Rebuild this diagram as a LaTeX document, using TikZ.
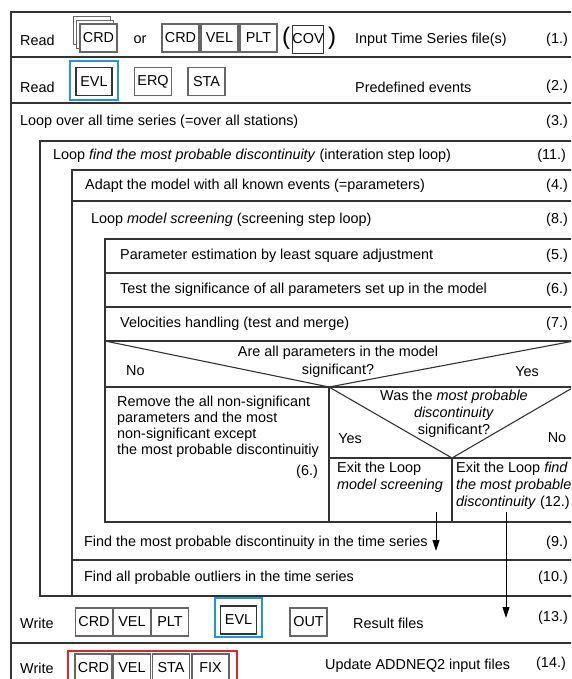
\documentclass[tikz,border=0pt]{standalone}
\usepackage{fontspec}
\setmainfont{Liberation Sans}
\usepackage{tikz}
\usetikzlibrary{arrows.meta}
\definecolor{evlblue}{RGB}{35,150,215}
\definecolor{fixred}{RGB}{230,35,45}

\begin{document}
\begin{tikzpicture}[
    x=1pt, y=-1pt,
    every node/.style={font=\fontsize{14.4}{17.3}\selectfont, inner sep=0pt},
    frame/.style={draw=black!80, line width=1.1},
    filebox/.style={draw=black!60, line width=1.2, minimum width=37, minimum height=28},
    arr/.style={-{Triangle[length=11, width=7]}, line width=1}
]
\useasboundingbox (0,0) rectangle (571,679);
\clip (0,0) rectangle (571,679);

% frame of the chart
\draw[frame] (11,12) rectangle (574,700);
\draw[frame] (11,57) -- (574,57);
\draw[frame] (11,103) -- (574,103);
\draw[frame] (40,141) rectangle (574,596);
\draw[frame] (72,170) rectangle (574,596);
\draw[frame] (72,201) -- (574,201);
\draw[frame] (105,239) rectangle (574,522);
\draw[frame] (105,273) -- (574,273);
\draw[frame] (105,307) -- (574,307);
\draw[frame] (105,341) -- (574,341);
\draw[frame] (105,341) -- (329,387) -- (574,341);
\draw[frame] (105,387) -- (574,387);
\draw[frame] (329,387) -- (329,522);
\draw[frame] (329,387) -- (452,458) -- (574,387);
\draw[frame] (329,458) -- (574,458);
\draw[frame] (452,458) -- (452,522);
\draw[frame] (72,560) -- (574,560);
\draw[frame] (11,643) -- (574,643);

% (1.) read time series
\node[anchor=west] (read1) at (20,40) {Read};
\draw[draw=black!60, line width=1, fill=white] (73,17) rectangle (110,45);
\draw[draw=black!60, line width=1, fill=white] (76.5,20.5) rectangle (113.5,48.5);
\node[filebox, fill=white] (crd0) at (98.5,38) {CRD};
\node (or) at (140,40) {or};
\node[filebox] (crd1) at (180.5,38) {CRD};
\node[filebox] (vel1) at (219.5,38) {VEL};
\node[filebox] (plt1) at (258.5,38) {PLT};
\node[font=\fontsize{24}{24}\selectfont] (lpar) at (286,38) {(};
\node[draw=black!80, line width=0.8, minimum width=30, minimum height=28] (cov) at (308,39) {COV};
\node[font=\fontsize{24}{24}\selectfont] (rpar) at (332,38) {)};
\node[anchor=west] (inp) at (355,40) {Input Time Series file(s)};
\node[anchor=east] (n1) at (568,40) {(1.)};

% (2.) predefined events
\node[anchor=west] (read2) at (20,87) {Read};
\draw[draw=evlblue, line width=1.3] (70,61) rectangle (118,100);
\node[filebox, draw=black!80, minimum width=36] (evl1) at (94,81.5) {EVL};
\node[filebox] (erq) at (153,81.5) {ERQ};
\node[filebox] (sta1) at (206.5,81.5) {STA};
\node[anchor=west] (pre) at (355,87) {Predefined events};
\node[anchor=east] (n2) at (568,87) {(2.)};

% loops
\node[anchor=west] (l3) at (20,122) {Loop over all time series (=over all stations)};
\node[anchor=east] (n3) at (568,122) {(3.)};
\node[anchor=west] (l11) at (53,156) {Loop \textit{find the most probable discontinuity} (interation step loop)};
\node[anchor=east] (n11) at (566,156) {(11.)};
\node[anchor=west] (l4) at (85,186) {Adapt the model with all known events (=parameters)};
\node[anchor=east] (n4) at (568,186) {(4.)};
\node[anchor=west] (l8) at (91,220) {Loop \textit{model screening} (screening step loop)};
\node[anchor=east] (n8) at (568,220) {(8.)};
\node[anchor=west] (l5) at (120,256) {Parameter estimation by least square adjustment};
\node[anchor=east] (n5) at (568,256) {(5.)};
\node[anchor=west] (l6) at (120,290) {Test the significance of all parameters set up in the model};
\node[anchor=east] (n6) at (568,290) {(6.)};
\node[anchor=west] (l7) at (120,324) {Velocities handling (test and merge)};
\node[anchor=east] (n7) at (568,324) {(7.)};

% decisions
\node[align=center, font=\fontsize{14.4}{18}\selectfont] (q1) at (338,362) {Are all parameters in the model\\significant?};
\node[anchor=west] (no1) at (126,371) {No};
\node (yes1) at (527,372) {Yes};
\node[align=center, font=\fontsize{14.4}{17}\selectfont] (q2) at (454,414) {Was the \textit{most probable}\\\textit{discontinuity}\\significant?};
\node (yes2) at (350,439) {Yes};
\node (no2) at (557,438) {No};
\node[anchor=north west, align=left, font=\fontsize{14.4}{15.8}\selectfont] (rem) at (117,396)
    {Remove the all non-significant\\parameters and the most\\non-significant except\\the most probable discontinuitiy};
\node[anchor=east] (n6b) at (318,472) {(6.)};
\node[anchor=north west, align=left] (ex1) at (337,462) {Exit the Loop\\\textit{model screening}};
\node[anchor=north west, align=left, font=\fontsize{14.4}{17}\selectfont] (ex2) at (456,462) {Exit the Loop \textit{find}\\\textit{the most probable}\\\textit{discontinuity} (12.)};

\node[anchor=west] (l9) at (84,543) {Find the most probable discontinuity in the time series};
\node[anchor=east] (n9) at (568,543) {(9.)};
\node[anchor=west] (l10) at (84,578) {Find all probable outliers in the time series};
\node[anchor=east] (n10) at (568,578) {(10.)};

% (13.) result files
\node[anchor=west] (wr1) at (20,623) {Write};
\node[filebox] (crd2) at (94,622) {CRD};
\node[filebox] (vel2) at (132,622) {VEL};
\node[filebox] (plt2) at (170,622) {PLT};
\draw[draw=evlblue, line width=1.3] (215,598) rectangle (262,637);
\node[filebox, draw=black!80, minimum width=36] (evl2) at (238.5,620) {EVL};
\node[filebox] (out) at (308.5,622) {OUT};
\node[anchor=west] (res) at (353,623) {Result files};
\node[anchor=east] (n13) at (568,618) {(13.)};

% (14.) update files
\node[anchor=west] (wr2) at (20,668) {Write};
\draw[draw=fixred, line width=1.3] (68,651) rectangle (237,690);
\node[filebox] (crd3) at (93.5,668) {CRD};
\node[filebox] (vel3) at (132,668) {VEL};
\node[filebox] (sta3) at (171,668) {STA};
\node[filebox] (fix) at (210.5,668) {FIX};
\node[anchor=west] (upd) at (325,666) {Update ADDNEQ2 input files};
\node[anchor=east] (n14) at (566,664) {(14.)};

% exits
\coordinate (e1a) at (436,512);
\coordinate (e1b) at (436,551);
\coordinate (e2a) at (506,512);
\coordinate (e2b) at (506,618);
\draw[arr] (e1a) -- (e1b);
\draw[arr] (e2a) -- (e2b);

\end{tikzpicture}
\end{document}
